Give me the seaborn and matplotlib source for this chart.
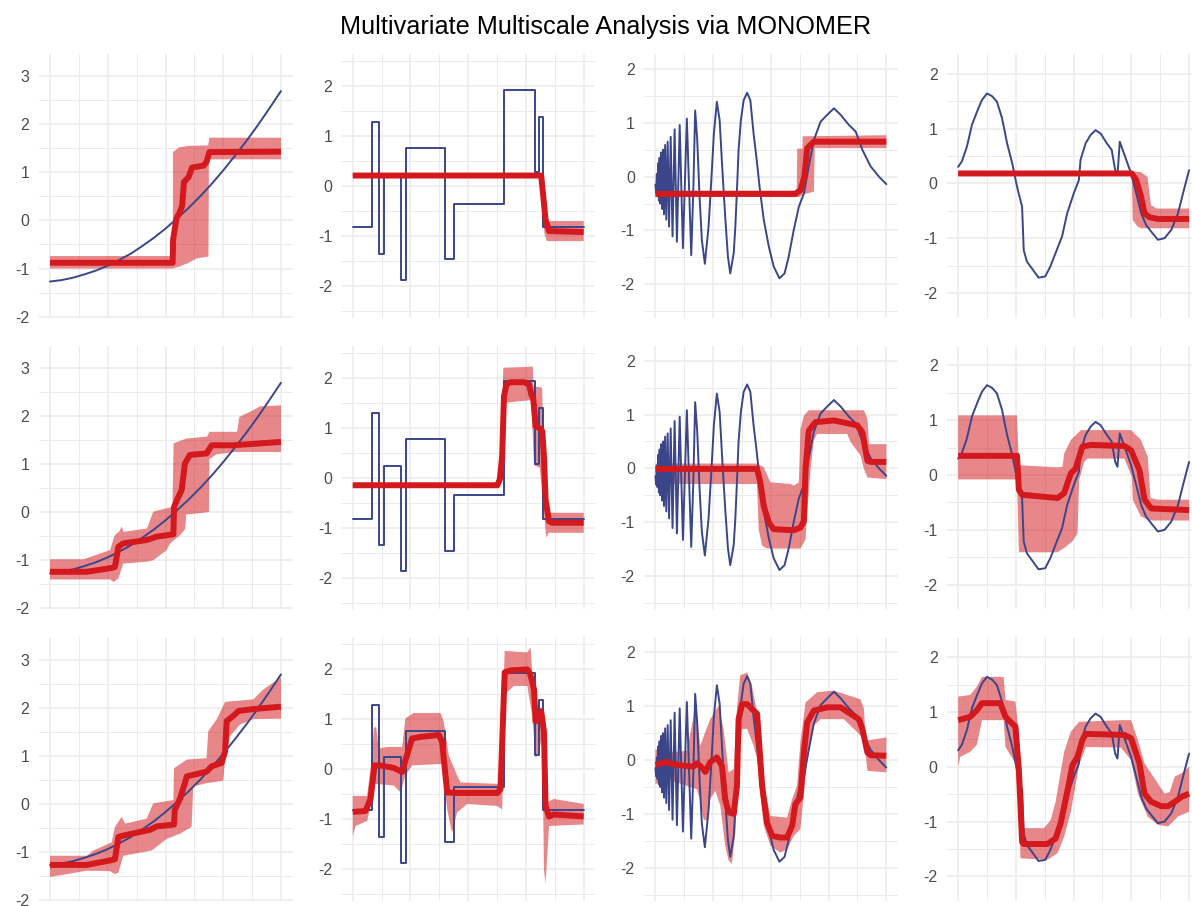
import matplotlib
matplotlib.use("Agg")
import matplotlib.pyplot as plt
import seaborn as sns
from matplotlib.ticker import MultipleLocator, NullFormatter

# ---------------------------------------------------------------- signals
# smooth increasing signal (column 1)
quad_x = [0, .05, .1, .15, .2, .25, .3, .35, .4, .45, .5, .55, .6, .65, .7, .75,
          .8, .85, .9, .95, 1]
quad_y = [-1.27, -1.24, -1.19, -1.12, -1.04, -0.94, -0.82, -0.69, -0.53, -0.36,
          -0.17, 0.04, 0.26, 0.50, 0.76, 1.04, 1.34, 1.65, 1.98, 2.33, 2.69]

# piecewise-constant signal (column 2): level i holds on [edge i, edge i+1)
blocks_edges = [0, 0.084, 0.113, 0.134, 0.211, 0.231, 0.398, 0.437, 0.657,
                0.789, 0.806, 0.826, 1]
blocks_levels = [-0.82, 1.29, -1.35, 0.24, -1.87, 0.77, -1.46, -0.35, 1.93,
                 0.28, 1.39, -0.82]

# chirp-like signal (column 3), (x, y) points
dop_pts = [(0.0, -0.15), (0.003, -0.30), (0.006, 0.05), (0.009, -0.35), (0.012, 0.25),
           (0.015, -0.45), (0.018, 0.35), (0.021, -0.50), (0.025, 0.45), (0.029, -0.60),
           (0.033, 0.50), (0.037, -0.70), (0.042, 0.59), (0.047, -0.80), (0.053, 0.65),
           (0.059, -0.93), (0.066, 0.74), (0.074, -1.11), (0.083, 0.88), (0.093, -1.21),
           (0.105, 0.96), (0.119, -1.33), (0.136, 1.08), (0.155, -1.46), (0.164, -0.25),
           (0.172, 1.23), (0.181, 0.68), (0.191, -0.37), (0.201, -1.18), (0.214, -1.62),
           (0.230, -0.93), (0.242, -0.06), (0.253, 0.80), (0.266, 1.39), (0.278, 1.05),
           (0.289, 0.19), (0.302, -0.74), (0.314, -1.49), (0.324, -1.80), (0.339, -1.42),
           (0.346, -0.93), (0.353, -0.25), (0.360, 0.50), (0.370, 1.05), (0.382, 1.42),
           (0.397, 1.56), (0.411, 1.42), (0.425, 0.80), (0.437, 0.37), (0.451, -0.19),
           (0.469, -0.80), (0.491, -1.30), (0.512, -1.67), (0.537, -1.89), (0.559, -1.80),
           (0.577, -1.49), (0.599, -0.99), (0.621, -0.56), (0.643, -0.31), (0.664, 0.19),
           (0.686, 0.68), (0.715, 1.02), (0.744, 1.15), (0.773, 1.27), (0.802, 1.15),
           (0.838, 0.96), (0.867, 0.84), (0.896, 0.50), (0.932, 0.19), (0.968, 0.0),
           (1.0, -0.14)]

# oscillating signal with a spike (column 4)
wave_x = [0, 0.016, 0.038, 0.060, 0.082, 0.103, 0.125, 0.147, 0.168, 0.190,
          0.212, 0.234, 0.255, 0.277, 0.284, 0.298, 0.319, 0.348, 0.377, 0.399,
          0.421, 0.450, 0.472, 0.501, 0.523, 0.530, 0.552, 0.573, 0.595, 0.617,
          0.644, 0.665, 0.680, 0.690, 0.700, 0.749, 0.771, 0.793, 0.814, 0.836,
          0.865, 0.894, 0.923, 0.952, 0.974, 1.0]
wave_y = [0.30, 0.40, 0.67, 1.07, 1.31, 1.52, 1.64, 1.59, 1.49, 1.19,
          0.73, 0.37, -0.06, -0.43, -1.22, -1.43, -1.55, -1.72, -1.70, -1.52,
          -1.28, -0.97, -0.55, -0.18, 0.06, 0.43, 0.73, 0.88, 0.97, 0.91,
          0.73, 0.61, 0.24, 0.15, 0.76, 0.18, -0.18, -0.55, -0.76, -0.88,
          -1.03, -1.00, -0.85, -0.55, -0.18, 0.24]

# ---------------------------------------------------------------- estimates
# (x, estimate) and band edges (x, upper) / (x, lower), per scale row
quad_est_1 = [(0, -0.88), (0.531, -0.88), (0.533, -0.40), (0.540, -0.18), (0.548, 0.05),
              (0.560, 0.15), (0.572, 0.30), (0.580, 0.80), (0.600, 0.90), (0.615, 1.10),
              (0.665, 1.14), (0.678, 1.22), (0.690, 1.42), (1, 1.43)]
quad_hi_1 = [(0, -0.74), (0.532, -0.74), (0.532, 1.42), (0.56, 1.52), (0.60, 1.55),
             (0.685, 1.56), (0.690, 1.72), (1, 1.72)]
quad_lo_1 = [(0, -1.00), (0.53, -1.00), (0.56, -0.96), (0.60, -0.88), (0.635, -0.79),
             (0.686, -0.75), (0.688, 1.27), (1, 1.27)]

quad_est_2 = [(0, -1.24), (0.159, -1.24), (0.267, -1.16), (0.281, -1.14), (0.296, -0.72),
              (0.317, -0.65), (0.418, -0.58), (0.462, -0.51), (0.534, -0.46), (0.537, 0.11),
              (0.556, 0.32), (0.570, 0.46), (0.584, 1.01), (0.606, 1.19), (0.678, 1.22),
              (0.700, 1.39), (0.794, 1.39), (1, 1.46)]
quad_hi_2 = [(0, -0.98), (0.145, -0.98), (0.175, -0.93), (0.26, -0.79), (0.28, -0.48),
             (0.30, -0.40), (0.310, -0.30), (0.318, -0.41), (0.42, -0.34), (0.447, 0.01),
             (0.53, 0.11), (0.535, 1.43), (0.59, 1.53), (0.68, 1.57), (0.69, 1.67),
             (0.81, 1.67), (0.82, 1.98), (0.88, 2.12), (0.91, 2.20), (1, 2.22)]
quad_lo_2 = [(0, -1.40), (0.26, -1.40), (0.275, -1.45), (0.296, -1.38), (0.317, -1.07),
             (0.418, -1.03), (0.447, -1.00), (0.505, -0.79), (0.52, -0.65), (0.565, -0.47),
             (0.585, -0.35), (0.59, -0.05), (0.688, 0.0), (0.69, 1.10), (0.72, 1.20),
             (0.80, 1.25), (1, 1.25)]

quad_est_3 = [(0, -1.27), (0.159, -1.27), (0.267, -1.17), (0.281, -1.15), (0.296, -0.69),
              (0.317, -0.66), (0.433, -0.54), (0.462, -0.47), (0.537, -0.43), (0.540, -0.13),
              (0.563, 0.11), (0.584, 0.43), (0.592, 0.57), (0.635, 0.62), (0.678, 0.67),
              (0.700, 0.78), (0.743, 0.85), (0.758, 1.09), (0.765, 1.72), (0.794, 1.83),
              (0.816, 1.93), (0.880, 1.97), (1, 2.02)]
quad_hi_3 = [(0, -1.08), (0.159, -1.08), (0.188, -0.97), (0.267, -0.80), (0.281, -0.48),
             (0.310, -0.27), (0.325, -0.41), (0.418, -0.31), (0.447, 0.01), (0.534, 0.08),
             (0.537, 0.74), (0.592, 0.92), (0.678, 0.95), (0.685, 1.51), (0.722, 1.76),
             (0.758, 2.12), (0.880, 2.17), (0.924, 2.38), (1, 2.63)]
quad_lo_3 = [(0, -1.52), (0.159, -1.39), (0.260, -1.40), (0.281, -1.46), (0.296, -1.43),
             (0.317, -1.08), (0.440, -0.97), (0.505, -0.73), (0.563, -0.62), (0.613, -0.48),
             (0.620, 0.36), (0.678, 0.43), (0.750, 0.48), (0.758, 0.92), (0.780, 1.41),
             (0.823, 1.65), (0.880, 1.76), (1, 1.77)]

blocks_est_1 = [(0, 0.21), (0.816, 0.21), (0.825, -0.20), (0.835, -0.67), (0.850, -0.90), (1, -0.92)]
blocks_hi_1 = [(0, 0.23), (0.816, 0.23), (0.826, 0.0), (0.834, -0.55), (0.840, -0.70), (1, -0.70)]
blocks_lo_1 = [(0, 0.19), (0.812, 0.19), (0.822, -0.45), (0.830, -0.95), (0.840, -1.10), (1, -1.10)]

blocks_est_2 = [(0, -0.15), (0.626, -0.15), (0.637, -0.03), (0.647, 0.43), (0.655, 1.63),
                (0.666, 1.87), (0.684, 1.91), (0.741, 1.91), (0.763, 1.87), (0.773, 1.67),
                (0.782, 1.57), (0.792, 1.03), (0.806, 1.0), (0.821, 0.93), (0.828, 0.43),
                (0.835, -0.43), (0.850, -0.87), (0.864, -0.90), (1, -0.90)]
blocks_hi_2 = [(0, -0.12), (0.62, -0.12), (0.64, 0.2), (0.652, 2.2), (0.78, 2.22),
               (0.782, 1.83), (0.82, 1.80), (0.83, 0.3), (0.835, -0.70), (1, -0.70)]
blocks_lo_2 = [(0, -0.18), (0.63, -0.18), (0.645, -0.05), (0.658, 1.5), (0.77, 1.55),
               (0.775, 1.3), (0.785, 0.25), (0.81, 0.2), (0.83, -0.8), (0.838, -1.2),
               (0.848, -1.1), (1, -1.1)]

blocks_est_3 = [(0, -0.85), (0.055, -0.83), (0.077, -0.59), (0.094, 0.08), (0.12, 0.08),
                (0.178, 0.03), (0.214, -0.05), (0.228, 0.18), (0.257, 0.62), (0.293, 0.65),
                (0.373, 0.69), (0.387, 0.55), (0.409, -0.46), (0.452, -0.47), (0.626, -0.47),
                (0.640, -0.39), (0.658, 1.94), (0.684, 1.98), (0.756, 2.0), (0.769, 1.9),
                (0.785, 1.6), (0.792, 0.96), (0.802, 1.09), (0.816, 1.16), (0.828, 0.76),
                (0.835, -0.73), (0.850, -0.94), (0.871, -0.90), (1, -0.94)]
blocks_hi_3 = [(0, -0.53), (0.062, -0.53), (0.084, 0.28), (0.091, 0.82), (0.101, 0.86),
               (0.113, 0.42), (0.150, 0.45), (0.214, 0.45), (0.228, 1.02), (0.264, 1.13),
               (0.380, 1.13), (0.394, 0.96), (0.416, 0.28), (0.452, -0.12), (0.467, -0.26),
               (0.640, -0.29), (0.658, 2.37), (0.756, 2.34), (0.770, 2.44), (0.785, 1.43),
               (0.792, 1.23), (0.828, 1.23), (0.840, -0.66), (0.871, -0.59), (1, -0.69)]
blocks_lo_3 = [(0, -1.34), (0.012, -1.13), (0.062, -1.03), (0.084, -0.59), (0.098, -0.29),
               (0.178, -0.32), (0.207, -0.46), (0.228, -0.12), (0.257, 0.08), (0.387, 0.11),
               (0.409, -0.8), (0.43, -1.27), (0.452, -0.86), (0.496, -0.69), (0.626, -0.73),
               (0.647, -0.8), (0.658, 1.5), (0.698, 1.67), (0.756, 1.67), (0.777, 1.09),
               (0.792, 0.22), (0.806, 0.35), (0.821, 0.69), (0.828, -2.0), (0.835, -2.28),
               (0.850, -1.13), (1, -1.1)]

dop_est_1 = [(0, -0.32), (0.606, -0.32), (0.628, -0.25), (0.645, 0.0), (0.657, 0.53),
             (0.686, 0.65), (1, 0.65)]
dop_hi_1 = [(0, -0.26), (0.612, -0.26), (0.614, 0.52), (0.636, 0.52), (0.638, 0.75), (1, 0.77)]
dop_lo_1 = [(0, -0.38), (0.62, -0.38), (0.64, -0.33), (0.686, -0.28), (0.69, 0.53), (1, 0.53)]

dop_est_2 = [(0, -0.01), (0.44, -0.01), (0.454, -0.26), (0.469, -0.70), (0.491, -1.01),
             (0.512, -1.13), (0.599, -1.15), (0.628, -1.10), (0.643, -0.98), (0.65, -0.01),
             (0.664, 0.70), (0.693, 0.86), (0.773, 0.89), (0.874, 0.80), (0.896, 0.67),
             (0.918, 0.14), (0.932, 0.12), (1, 0.12)]
dop_hi_2 = [(0, 0.09), (0.44, 0.09), (0.469, 0.02), (0.498, -0.26), (0.585, -0.29),
            (0.60, -0.32), (0.621, -0.26), (0.628, 0.73), (0.643, 0.98), (0.664, 1.08),
            (0.903, 1.08), (0.918, 0.92), (0.925, 0.45), (1, 0.45)]
dop_lo_2 = [(0, -0.29), (0.44, -0.29), (0.447, -1.13), (0.462, -1.44), (0.483, -1.49),
            (0.628, -1.49), (0.65, -1.32), (0.654, -1.01), (0.672, 0.0), (0.686, 0.52),
            (0.70, 0.64), (0.830, 0.64), (0.845, 0.49), (0.888, 0.24), (0.903, -0.01),
            (0.918, -0.17), (1, -0.2)]

dop_est_3 = [(0, -0.09), (0.027, -0.06), (0.049, -0.03), (0.064, -0.07), (0.136, -0.11),
             (0.165, -0.12), (0.179, -0.06), (0.194, -0.11), (0.216, -0.22), (0.237, -0.04),
             (0.266, 0.05), (0.288, -0.11), (0.302, -0.73), (0.317, -0.97), (0.339, -1.0),
             (0.353, -0.48), (0.36, 0.76), (0.375, 1.04), (0.397, 1.04), (0.418, 0.95),
             (0.44, 0.86), (0.447, 0.45), (0.462, -0.48), (0.483, -1.16), (0.505, -1.41),
             (0.541, -1.44), (0.57, -1.44), (0.592, -1.22), (0.606, -0.82), (0.628, -0.69),
             (0.643, 0.14), (0.657, 0.70), (0.686, 0.92), (0.744, 0.98), (0.802, 0.98),
             (0.845, 0.86), (0.881, 0.76), (0.896, 0.58), (0.918, 0.14), (0.932, 0.09), (1, 0.08)]
dop_hi_3 = [(0, 0.2), (0.049, 0.14), (0.136, 0.17), (0.172, 0.95), (0.188, 0.5),
            (0.194, 0.27), (0.237, 0.76), (0.273, 1.01), (0.295, 0.58), (0.317, -0.23),
            (0.339, -0.17), (0.353, 0.95), (0.367, 1.57), (0.397, 1.63), (0.418, 1.38),
            (0.44, 0.89), (0.454, 0.45), (0.476, -0.6), (0.498, -1.04), (0.57, -1.07),
            (0.592, -0.73), (0.613, -0.48), (0.628, 0.33), (0.65, 1.07), (0.70, 1.26),
            (0.773, 1.29), (0.888, 1.13), (0.903, 0.95), (0.91, 0.36), (1, 0.42)]
dop_lo_3 = [(0, -0.45), (0.049, -0.35), (0.136, -0.48), (0.179, -0.54), (0.194, -0.76),
            (0.208, -1.1), (0.223, -1.13), (0.237, -0.73), (0.259, -0.57), (0.281, -0.85),
            (0.302, -1.59), (0.317, -1.87), (0.331, -1.93), (0.346, -1.35), (0.36, 0.02),
            (0.375, 0.58), (0.397, 0.58), (0.425, 0.27), (0.44, 0.02), (0.454, -0.6),
            (0.469, -1.22), (0.498, -1.59), (0.541, -1.72), (0.57, -1.66), (0.599, -1.41),
            (0.628, -1.28), (0.643, -0.6), (0.657, 0.02), (0.686, 0.64), (0.715, 0.76),
            (0.816, 0.76), (0.859, 0.58), (0.903, 0.39), (0.918, -0.2), (1, -0.23)]

wave_est_1 = [(0, 0.18), (0.752, 0.18), (0.771, 0.06), (0.792, -0.24), (0.807, -0.55),
              (0.829, -0.62), (0.865, -0.65), (1, -0.65)]
wave_hi_1 = [(0, 0.20), (0.79, 0.21), (0.82, 0.12), (0.835, -0.40), (0.86, -0.46), (1, -0.46)]
wave_lo_1 = [(0, 0.16), (0.752, 0.16), (0.756, -0.67), (0.777, -0.79), (0.792, -0.82), (1, -0.82)]

wave_est_2 = [(0, 0.35), (0.255, 0.35), (0.263, -0.27), (0.277, -0.36), (0.43, -0.42),
              (0.459, -0.33), (0.488, 0.03), (0.509, 0.12), (0.538, 0.52), (0.575, 0.55),
              (0.72, 0.53), (0.749, 0.45), (0.785, 0.09), (0.807, -0.45), (0.836, -0.61),
              (1, -0.64)]
wave_hi_2 = [(0, 1.09), (0.255, 1.09), (0.263, 0.18), (0.43, 0.14), (0.452, 0.15),
             (0.459, 0.39), (0.488, 0.64), (0.532, 0.82), (0.749, 0.82), (0.792, 0.64),
             (0.821, 0.33), (0.833, -0.42), (0.865, -0.45), (1, -0.45)]
wave_lo_2 = [(0, -0.08), (0.255, -0.08), (0.263, -1.41), (0.43, -1.41), (0.459, -1.33),
             (0.495, -1.21), (0.517, -1.06), (0.524, -0.09), (0.546, 0.24), (0.560, 0.30),
             (0.72, 0.30), (0.752, -0.03), (0.756, -0.45), (0.792, -0.76), (0.836, -0.83),
             (1, -0.83)]

wave_est_3 = [(0, 0.85), (0.052, 0.91), (0.081, 1.03), (0.103, 1.16), (0.183, 1.16),
              (0.205, 0.91), (0.248, 0.73), (0.263, -0.06), (0.277, -1.37), (0.284, -1.41),
              (0.386, -1.41), (0.422, -1.31), (0.444, -1.03), (0.459, -0.73), (0.48, -0.30),
              (0.495, 0.03), (0.517, 0.18), (0.538, 0.49), (0.553, 0.60), (0.72, 0.58),
              (0.749, 0.52), (0.785, 0.06), (0.807, -0.49), (0.836, -0.64), (0.88, -0.72),
              (0.909, -0.72), (0.938, -0.64), (0.967, -0.55), (1, -0.49)]
wave_hi_3 = [(0, 1.28), (0.052, 1.31), (0.081, 1.46), (0.103, 1.64), (0.197, 1.64),
             (0.205, 1.22), (0.248, 1.19), (0.263, 0.61), (0.270, -1.12), (0.372, -1.12),
             (0.401, -0.97), (0.422, -0.64), (0.459, 0.27), (0.488, 0.64), (0.524, 0.82),
             (0.705, 0.85), (0.749, 0.85), (0.778, 0.49), (0.807, 0.06), (0.85, -0.21),
             (0.894, -0.49), (0.916, -0.46), (0.938, -0.18), (0.967, -0.12), (1, 0.0)]
wave_lo_3 = [(0, 0.0), (0.009, 0.18), (0.052, 0.27), (0.081, 0.40), (0.103, 0.85),
             (0.197, 0.85), (0.205, 0.36), (0.248, 0.06), (0.263, -0.73), (0.270, -1.67),
             (0.386, -1.70), (0.430, -1.58), (0.459, -1.28), (0.488, -0.82), (0.524, 0.03),
             (0.553, 0.36), (0.705, 0.35), (0.749, 0.12), (0.778, -0.49), (0.821, -0.91),
             (0.865, -1.06), (0.909, -1.09), (0.952, -0.91), (1, -0.82)]

TITLE = "Multivariate Multiscale Analysis via MONOMER"

# ---------------------------------------------------------------- style
sns.set_theme(style="white")
plt.rcParams["font.family"] = ["Liberation Sans", "DejaVu Sans"]
plt.rcParams["axes.unicode_minus"] = False

RED = "#D3191D"
BLUE = "#3A4689"
GRID = "#EBEBEB"

W, H = 1192, 906
fig = plt.figure(figsize=(W / 100, H / 100), dpi=100)

col_left = [38.5, 341.2, 643.9, 946.6]
panel_w = 254.0
row_top = [54.0, 345.7, 637.4]
panel_h = 263.6
col_ylim = [(-2.02, 3.46), (-2.63, 2.64), (-2.62, 2.28), (-2.45, 2.36)]
col_yticks = [[-2, -1, 0, 1, 2, 3], [-2, -1, 0, 1, 2], [-2, -1, 0, 1, 2], [-2, -1, 0, 1, 2]]

blocks_x = blocks_edges
blocks_y = blocks_levels + [blocks_levels[-1]]
dop_x = [p[0] for p in dop_pts]
dop_y = [p[1] for p in dop_pts]

signals = [(quad_x, quad_y, None), (blocks_x, blocks_y, "steps-post"),
           (dop_x, dop_y, None), (wave_x, wave_y, None)]
estimates = [
    [(quad_est_1, quad_hi_1, quad_lo_1), (quad_est_2, quad_hi_2, quad_lo_2), (quad_est_3, quad_hi_3, quad_lo_3)],
    [(blocks_est_1, blocks_hi_1, blocks_lo_1), (blocks_est_2, blocks_hi_2, blocks_lo_2), (blocks_est_3, blocks_hi_3, blocks_lo_3)],
    [(dop_est_1, dop_hi_1, dop_lo_1), (dop_est_2, dop_hi_2, dop_lo_2), (dop_est_3, dop_hi_3, dop_lo_3)],
    [(wave_est_1, wave_hi_1, wave_lo_1), (wave_est_2, wave_hi_2, wave_lo_2), (wave_est_3, wave_hi_3, wave_lo_3)],
]


def style_panel(ax, ylim, yticks):
    ax.set_xlim(-0.05, 1.05)
    ax.set_ylim(*ylim)
    ax.xaxis.set_major_locator(MultipleLocator(0.25))
    ax.xaxis.set_minor_locator(MultipleLocator(0.125))
    ax.set_yticks(yticks)
    ax.yaxis.set_minor_locator(MultipleLocator(0.5))
    ax.xaxis.set_major_formatter(NullFormatter())
    ax.set_yticklabels([str(t) for t in yticks])
    ax.grid(which="major", color=GRID, linewidth=1.15, zorder=0)
    ax.grid(which="minor", color=GRID, linewidth=0.7, zorder=0)
    ax.set_axisbelow(True)
    for s in ax.spines.values():
        s.set_visible(False)
    ax.tick_params(axis="both", which="both", length=0)
    ax.tick_params(axis="y", labelsize=11.5, labelcolor="#4D4D4D", pad=6.5)
    ax.set_xlabel("")
    ax.set_ylabel("")


for c in range(4):
    sx, sy, ds = signals[c]
    for r in range(3):
        left = col_left[c]
        top = row_top[r]
        ax = fig.add_axes([left / W, 1 - (top + panel_h) / H, panel_w / W, panel_h / H])
        est, hi, lo = estimates[c][r]
        hx, hy = zip(*hi)
        lx, ly = zip(*lo)
        ax.fill(list(hx) + list(lx)[::-1], list(hy) + list(ly)[::-1],
                color=RED, alpha=0.52, linewidth=0, zorder=2)
        kw = {"drawstyle": ds} if ds else {}
        sns.lineplot(x=sx, y=sy, ax=ax, color=BLUE, linewidth=1.4, sort=False,
                     estimator=None, zorder=3, **kw)
        ex, ey = zip(*est)
        sns.lineplot(x=list(ex), y=list(ey), ax=ax, color=RED, linewidth=4.3,
                     sort=False, estimator=None, zorder=4, solid_capstyle="butt")
        style_panel(ax, col_ylim[c], col_yticks[c])

fig.text(606 / W, 1 - 27 / H, TITLE, ha="center", va="center", fontsize=18.2, color="#000000")

fig.savefig("out.png", dpi=100)
